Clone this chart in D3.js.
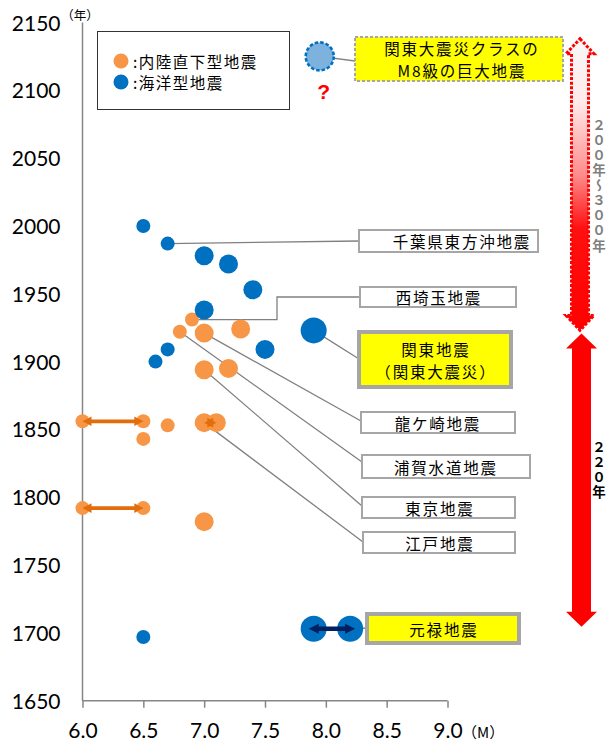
<!DOCTYPE html>
<html><head><meta charset="utf-8">
<script src="https://cdn.jsdelivr.net/npm/d3@7"></script>
<style>html,body{margin:0;padding:0;background:#fff}svg{display:block}</style>
</head><body>
<script>
// ---------------- data ----------------
const landM    = [6.9, 6.8, 7.0, 7.3, 7.0, 7.2, 6.0, 6.5, 6.7, 6.5, 7.0, 7.1, 6.0, 6.5, 7.0];
const landYear = [1931, 1922, 1921, 1924, 1894, 1895, 1856, 1856, 1853, 1843, 1855, 1855, 1792, 1792, 1782];
const oceanM    = [6.5, 6.7, 7.0, 7.2, 7.4, 7.0, 7.9, 7.5, 6.7, 6.6, 6.5, 7.9, 8.2];
const oceanYear = [2000, 1987, 1978, 1972, 1953, 1938, 1923, 1909, 1909, 1900, 1697, 1703, 1703];
const futureM = [7.95];
const futureYear = [2125];
const rangeYear = [1856, 1792, 1855, 1703];
const rangeFrom = [6.0, 6.0, 7.0, 7.9];
const rangeTo   = [6.5, 6.5, 7.1, 8.2];
const rangeType = ["land", "land", "land", "ocean"];
const xTicks = [6.0, 6.5, 7.0, 7.5, 8.0, 8.5, 9.0];
const yTicks = [1650, 1700, 1750, 1800, 1850, 1900, 1950, 2000, 2050, 2100, 2150];
const legendLabels = [":内陸直下型地震", ":海洋型地震"];
const calloutText = [
  ["千葉県東方沖地震"], ["西埼玉地震"], ["関東地震", "（関東大震災）"], ["龍ケ崎地震"],
  ["浦賀水道地震"], ["東京地震"], ["江戸地震"], ["元禄地震"], ["関東大震災クラスの", "M8級の巨大地震"]
];
const calloutM    = [6.7, 6.9, 7.9, 7.0, 6.8, 7.0, 7.0, 8.2, 7.95];
const calloutYear = [1987, 1931, 1923, 1921, 1922, 1894, 1855, 1703, 2125];
const intervalLabels = ["２００年～３００年", "２２０年"];
const intervalFrom = [1923, 1703];
const intervalTo   = [2138, 1923];

// ---------------- layout ----------------
const W = 608, H = 744;
const svg = d3.select("body").append("svg").attr("width", W).attr("height", H);
const x = d3.scaleLinear().domain([6, 9]).range([82.5, 447.5]);
const y = d3.scaleLinear().domain([1650, 2150]).range([700.7, 22.5]);
const rScale = d3.scaleThreshold().domain([7.0, 7.8]).range([7, 9.5, 13]);
const ORANGE = "#f79646", BLUE = "#0070c0", AXIS = "#868686";
const JP = "'Noto Sans CJK JP','Noto Sans CJK SC',sans-serif";
const NUM = "Lato,'Liberation Sans',sans-serif";

const defs = svg.append("defs");
const grad = defs.append("linearGradient").attr("id", "fadeRed").attr("x1", 0).attr("y1", 0).attr("x2", 0).attr("y2", 1);
[[0, "#f7f7f7"], [0.22, "#ffeaea"], [0.47, "#ff8a8a"], [0.65, "#ff1010"], [1, "#ff0000"]]
  .forEach(([o, c]) => grad.append("stop").attr("offset", o).attr("stop-color", c));

// ---------------- axes ----------------
const xAxis = d3.axisBottom(x).tickValues(xTicks).tickSize(7).tickFormat(d3.format(".1f"));
const gx = svg.append("g").attr("transform", `translate(0,${y(1650)})`).call(xAxis);
gx.select(".domain").attr("stroke", AXIS).attr("stroke-width", 1.5).attr("d", `M${x(6)},0H${x(9)}`);
gx.selectAll(".tick line").attr("stroke", AXIS).attr("stroke-width", 1.5);
gx.selectAll(".tick text").attr("y", 0).attr("dy", 0).attr("transform", "translate(0,37)")
  .attr("font-family", NUM).attr("font-size", 21).attr("fill", "#000");

const yAxis = d3.axisLeft(y).tickValues(yTicks).tickSize(0).tickPadding(22).tickFormat(d3.format("d"));
const gy = svg.append("g").attr("transform", `translate(${x(6)},0)`).call(yAxis);
gy.select(".domain").attr("stroke", AXIS).attr("stroke-width", 1.5).attr("d", `M0,${y(2150)}V${y(1650)}`);
gy.selectAll(".tick text").attr("font-family", NUM).attr("font-size", 21).attr("fill", "#000").attr("dy", "0.36em");

svg.append("text").attr("x", 80).attr("y", 14).attr("text-anchor", "middle").attr("dominant-baseline", "central")
  .attr("font-family", JP).attr("font-size", 12.5).text("（年）");
svg.append("text").attr("x", 462).attr("y", 731).attr("dominant-baseline", "central")
  .attr("font-family", JP).attr("font-size", 15).text("（M）");

// ---------------- legend ----------------
svg.append("rect").attr("x", 97.5).attr("y", 31.5).attr("width", 192).attr("height", 78)
  .attr("fill", "#fff").attr("stroke", "#333").attr("stroke-width", 1);
const legColors = [ORANGE, BLUE];
legendLabels.forEach((t, i) => {
  const cy = 61 + i * 21;
  svg.append("circle").attr("cx", 121).attr("cy", cy).attr("r", 7.5).attr("fill", legColors[i]);
  svg.append("text").attr("x", 133).attr("y", cy).attr("dominant-baseline", "central")
    .attr("font-family", JP).attr("font-size", 15.5).attr("letter-spacing", 1.5).text(t);
});

// ---------------- callouts (lines first) ----------------
const boxes = [
  {x0: 359, y0: 230, x1: 538, y1: 252, tx: 461, fill: "#fff", sw: 2, endY: 241},
  {x0: 360, y0: 287, x1: 516, y1: 307, tx: 438, fill: "#fff", sw: 2, endY: 297, elbowX: 277},
  {x0: 359, y0: 332, x1: 511, y1: 387, tx: 435, fill: "#ffff00", sw: 4, endY: 359},
  {x0: 361, y0: 412, x1: 515, y1: 433, tx: 437, fill: "#fff", sw: 2, endY: 421},
  {x0: 362, y0: 455, x1: 530, y1: 478, tx: 445, fill: "#fff", sw: 2, endY: 462},
  {x0: 362, y0: 497, x1: 515, y1: 518, tx: 439, fill: "#fff", sw: 2, endY: 506},
  {x0: 363, y0: 532, x1: 515, y1: 553, tx: 439, fill: "#fff", sw: 2, endY: 542},
  {x0: 367, y0: 614, x1: 519, y1: 643, tx: 443, fill: "#ffff00", sw: 4, endY: 628},
  {x0: 355, y0: 37, x1: 563, y1: 81, tx: 461, fill: "#ffff00", sw: 2, endY: 61, dash: "3,2"}
];
const gLines = svg.append("g");
calloutText.forEach((t, i) => {
  const b = boxes[i];
  const px = x(calloutM[i]), py = y(calloutYear[i]);
  let d;
  if (b.elbowX) d = `M${px},${py}H${b.elbowX}V${b.endY}H${b.x0}`;
  else d = `M${px},${py}L${b.x0},${b.endY}`;
  gLines.append("path").attr("d", d).attr("fill", "none").attr("stroke", "#808080").attr("stroke-width", 1.3);
});

// ---------------- points ----------------
const land = landM.map((m, i) => ({m, yr: landYear[i]}));
const ocean = oceanM.map((m, i) => ({m, yr: oceanYear[i]}));
svg.append("g").selectAll("circle").data(land).join("circle")
  .attr("cx", d => x(d.m)).attr("cy", d => y(d.yr)).attr("r", d => rScale(d.m)).attr("fill", ORANGE);
svg.append("g").selectAll("circle").data(ocean).join("circle")
  .attr("cx", d => x(d.m)).attr("cy", d => y(d.yr)).attr("r", d => rScale(d.m)).attr("fill", BLUE);
svg.append("g").selectAll("circle").data(futureM.map((m, i) => ({m, yr: futureYear[i]}))).join("circle")
  .attr("cx", d => x(d.m)).attr("cy", d => y(d.yr)).attr("r", 14)
  .attr("fill", "#7db1de").attr("stroke", BLUE).attr("stroke-width", 2.6).attr("stroke-dasharray", "3.5,2");
svg.append("text").attr("x", x(futureM[0]) + 4).attr("y", y(futureYear[0]) + 35).attr("text-anchor", "middle")
  .attr("dominant-baseline", "central").attr("font-family", "'Liberation Sans',sans-serif")
  .attr("font-weight", "bold").attr("font-size", 21).attr("fill", "#ff0000").text("?");

// ---------------- range arrows ----------------
function hArrow(x0, x1, cy, sh, hh, hl) {
  return `M${x0},${cy}L${x0 + hl},${cy - hh}L${x0 + hl},${cy - sh}L${x1 - hl},${cy - sh}L${x1 - hl},${cy - hh}` +
         `L${x1},${cy}L${x1 - hl},${cy + hh}L${x1 - hl},${cy + sh}L${x0 + hl},${cy + sh}L${x0 + hl},${cy + hh}Z`;
}
rangeYear.forEach((yr, i) => {
  const isLand = rangeType[i] === "land";
  const ext = isLand ? 0 : 5;
  svg.append("path")
    .attr("d", hArrow(x(rangeFrom[i]) - ext, x(rangeTo[i]) + ext, y(yr), isLand ? 1.9 : 2.2, isLand ? 4.8 : 5, isLand ? 9 : 10))
    .attr("fill", isLand ? "#e46c0a" : "#002060");
});

// ---------------- callout boxes ----------------
calloutText.forEach((lines, i) => {
  const b = boxes[i];
  svg.append("rect").attr("x", b.x0).attr("y", b.y0).attr("width", b.x1 - b.x0).attr("height", b.y1 - b.y0)
    .attr("fill", b.fill).attr("stroke", "#a6a6a6").attr("stroke-width", b.sw)
    .attr("stroke-dasharray", b.dash || null);
  const cy = (b.y0 + b.y1) / 2, lh = 22;
  lines.forEach((t, j) => {
    svg.append("text").attr("x", b.tx + 0.9).attr("y", cy + (j - (lines.length - 1) / 2) * lh)
      .attr("text-anchor", "middle").attr("dominant-baseline", "central")
      .attr("font-family", JP).attr("font-size", 15.5).attr("letter-spacing", 1.8).attr("fill", "#000").text(t);
  });
});

// ---------------- interval arrows ----------------
function vArrow(cx, yT, yB, sh, hh, hl) {
  return `M${cx},${yT}L${cx + hh},${yT + hl}L${cx + sh},${yT + hl}L${cx + sh},${yB - hl}L${cx + hh},${yB - hl}` +
         `L${cx},${yB}L${cx - hh},${yB - hl}L${cx - sh},${yB - hl}L${cx - sh},${yT + hl}L${cx - hh},${yT + hl}Z`;
}
svg.append("path").attr("d", vArrow(580, y(intervalTo[0]), y(intervalFrom[0]), 8.5, 14, 15))
  .attr("fill", "url(#fadeRed)").attr("stroke", "#ff0000").attr("stroke-width", 3).attr("stroke-dasharray", "3,1.6");
svg.append("path").attr("d", vArrow(581.5, y(intervalTo[1]) + 3, y(intervalFrom[1]) - 2, 9.5, 15.5, 15))
  .attr("fill", "#ff0000");

const vCols = [{cx: 599, y0: 118, fill: "#7f7f7f"}, {cx: 599, y0: 440, fill: "#000"}];
intervalLabels.forEach((t, i) => {
  const c = vCols[i];
  svg.append("text").attr("x", c.cx).attr("y", c.y0)
    .style("writing-mode", "vertical-rl").style("text-orientation", "upright")
    .attr("font-family", JP).attr("font-weight", "bold").attr("font-size", 13.5)
    .attr("letter-spacing", 1.6).attr("fill", c.fill).text(t);
});
</script>
</body></html>
